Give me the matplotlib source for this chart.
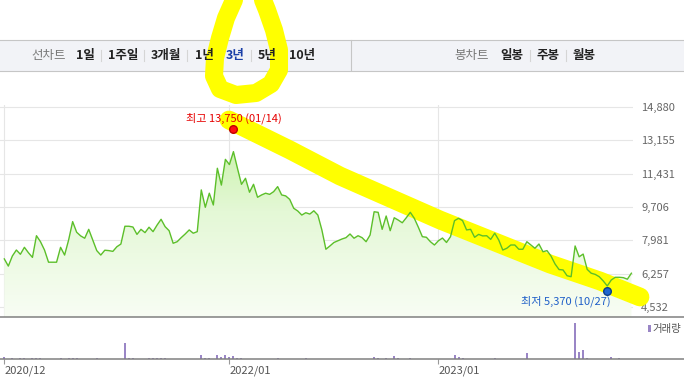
import numpy as np
import pandas as pd
import matplotlib
matplotlib.use('Agg')
import matplotlib.pyplot as plt
import matplotlib.dates as mdates
from matplotlib.colors import LinearSegmentedColormap
from matplotlib.lines import Line2D
from matplotlib.patches import Rectangle

plt.rcParams['font.family'] = ['Noto Sans CJK KR', 'DejaVu Sans']

W, H = 684, 392

# weekly closing prices (won), one value per week from the first week of Dec 2020
prices = [
    7020, 6650, 7170, 7480, 7260, 7620, 7340, 7100, 8220, 7910,
    7480, 6850, 6850, 6850, 7620, 7220, 8000, 8950, 8400, 8210,
    8090, 8550, 8000, 7450, 7220, 7470, 7450, 7410, 7650, 7790,
    8710, 8710, 8670, 8290, 8550, 8380, 8660, 8430, 8770, 9070,
    8690, 8480, 7830, 7910, 8120, 8310, 8520, 8350, 8430, 10590,
    9690, 10420, 9810, 11710, 10840, 12170, 11900, 12570, 11710, 10880,
    11190, 10470, 10880, 10210, 10330, 10420, 10360, 10500, 10760, 10330,
    10280, 10100, 9640, 9500, 9290, 9410, 9340, 9510, 9290, 8520,
    7520, 7690, 7870, 7960, 8050, 8120, 8310, 8090, 8220, 8120,
    7910, 8260, 9460, 9430, 8550, 9240, 8480, 9150, 9030, 8890,
    9150, 9430, 9120, 8660, 8170, 8140, 7910, 7740, 7960, 8100,
    7870, 8170, 9000, 9120, 9000, 8520, 8550, 8140, 8290, 8210,
    8220, 8030, 8350, 8000, 7480, 7570, 7740, 7740, 7520, 7520,
    7910, 7740, 7570, 7790, 7390, 7450, 7170, 6760, 6470, 6450,
    6150, 6100, 7690, 7130, 7270, 6480, 6280, 6220, 6100, 5880,
    5620, 5930, 6070, 6070, 6050, 5970, 6280,
]

# weekly trading volume (shares)
volumes = [
    20000, 0, 10000, 0, 10000, 10000, 0, 10000, 10000, 10000,
    0, 0, 0, 0, 10000, 0, 10000, 10000, 10000, 0,
    0, 0, 0, 10000, 0, 0, 0, 0, 0, 0,
    163000, 13000, 10000, 0, 0, 0, 10000, 10000, 10000, 10000,
    10000, 0, 0, 0, 0, 0, 0, 0, 0, 43000,
    10000, 10000, 0, 43000, 20000, 43000, 20000, 33000, 10000, 10000,
    0, 0, 0, 0, 0, 0, 0, 0, 10000, 0,
    0, 0, 0, 0, 0, 10000, 0, 0, 0, 0,
    0, 0, 0, 0, 0, 0, 0, 0, 0, 0,
    0, 0, 23000, 10000, 0, 10000, 0, 33000, 13000, 0,
    0, 10000, 0, 0, 0, 0, 0, 0, 0, 0,
    0, 0, 43000, 23000, 13000, 0, 0, 0, 0, 0,
    0, 0, 13000, 0, 0, 0, 0, 0, 0, 0,
    57000, 0, 0, 0, 0, 0, 0, 0, 0, 0,
    0, 0, 363000, 67000, 93000, 13000, 0, 0, 0, 0,
    0, 23000, 0, 13000, 0, 0, 0,
]

start = '2020-12-07'
dates = pd.date_range(start, periods=len(prices), freq='7D')

tick_dates = pd.to_datetime(['2020-12-07', '2022-01-03', '2023-01-02'])
tick_labels = ['2020/12', '2022/01', '2023/01']
price_ticks = [4532, 6257, 7981, 9706, 11431, 13155, 14880]

hi_date, hi_price = pd.Timestamp('2022-01-14'), 13750
lo_date, lo_price = pd.Timestamp('2023-10-27'), 5370

menu_left = ['1일', '1주일', '3개월', '1년', '3년', '5년', '10년']
menu_right = ['일봉', '주봉', '월봉']
selected = '3년'


def fx(px):
    return px / W


def fy(py):
    return 1 - py / H


fig = plt.figure(figsize=(W / 100, H / 100), dpi=100)
fig.patch.set_facecolor('white')

# ---- menu bar ----
fig.add_artist(Rectangle((fx(-2), fy(70.5)), fx(688), (70.5 - 39.5) / H,
                         facecolor='#f2f3f7', edgecolor='#c6c6c6', lw=0.8,
                         transform=fig.transFigure, zorder=1))
fig.add_artist(Line2D([fx(351), fx(351)], [fy(40), fy(70)], color='#c6c6c6',
                      lw=0.8, transform=fig.transFigure, zorder=2))

fig.text(fx(48.7), fy(55), '선차트', color='#777777', fontsize=9, ha='center', va='center', zorder=3)
left_x = [85.8, 123, 165.5, 204, 235, 267, 302]
for x, lab in zip(left_x, menu_left):
    col = '#1a3fa8' if lab == selected else '#222222'
    fig.text(fx(x), fy(55), lab, color=col, fontsize=9, fontweight='bold',
             ha='center', va='center', zorder=3)
for sx in [101.3, 144, 187, 219.6, 251, 283.8, 529.7, 566]:
    fig.add_artist(Line2D([fx(sx), fx(sx)], [fy(50), fy(61)], color='#d5d5d5',
                          lw=0.8, transform=fig.transFigure, zorder=2))

fig.text(fx(471.6), fy(55), '봉차트', color='#777777', fontsize=9, ha='center', va='center', zorder=3)
for x, lab in zip([511.8, 547.6, 583.6], menu_right):
    fig.text(fx(x), fy(55), lab, color='#222222', fontsize=9, fontweight='bold',
             ha='center', va='center', zorder=3)

# ---- price panel ----
day0 = dates[0]
xmin = day0 - pd.Timedelta(days=7.5)
xmax = day0 + pd.Timedelta(days=1094.8)
ymin, ymax = 4015, 14983

ax = fig.add_axes([0, fy(317), fx(633), (317 - 105) / H])
ax.set_facecolor('none')
for s in ax.spines.values():
    s.set_visible(False)

poly = ax.fill_between(dates, prices, ymin, color='none', lw=0)
grad = np.linspace(0, 1, 256).reshape(-1, 1)
cmap = LinearSegmentedColormap.from_list('g', ['#f8fdf4', '#e4f8d6', '#bdee96'])
im = ax.imshow(grad, extent=[mdates.date2num(xmin), mdates.date2num(xmax), ymin, ymax],
               origin='lower', aspect='auto', cmap=cmap, zorder=1)
im.set_clip_path(poly.get_paths()[0], transform=ax.transData)

ax.plot(dates, prices, color='#5cbf2a', lw=1.0, zorder=3)

ax.set_xlim(xmin, xmax)
ax.set_ylim(ymin, ymax)
ax.set_xticks(tick_dates)
ax.set_yticks(price_ticks)
ax.set_yticklabels([f'{v:,}' for v in price_ticks])
ax.yaxis.tick_right()
ax.tick_params(axis='x', length=0, labelbottom=False)
ax.tick_params(axis='y', length=0, pad=5.8, labelsize=8, labelcolor='#666666')
for lab in ax.get_yticklabels():
    lab.set_ha('left')
ax.grid(True, color='#e6e6e6', lw=0.8, zorder=0)
ax.set_axisbelow(True)

# highlighter band (drawn under the price line)
band_x = [229, 290, 340, 440, 550, 600, 640]
band_y = [120, 150, 176, 220, 264, 281, 297]
ax.add_line(Line2D([fx(v) for v in band_x], [fy(v) for v in band_y],
                   color='#ffff00', lw=13.5, solid_capstyle='round',
                   solid_joinstyle='round', transform=fig.transFigure,
                   clip_on=False, zorder=2))

# high / low markers
hi_week = hi_date - pd.Timedelta(days=hi_date.weekday())
lo_week = lo_date - pd.Timedelta(days=lo_date.weekday())
ax.plot(hi_week, hi_price, 'o', color='#ff1010', mec='#c00000', ms=5.5, zorder=6, clip_on=False)
ax.annotate(f'최고 {hi_price:,} ({hi_date:%m/%d})', (hi_week, hi_price),
            xytext=(0, 7.5), textcoords='offset points', ha='center', va='center',
            color='#e60000', fontsize=8, zorder=7, annotation_clip=False)
ax.plot(lo_week, lo_price, 'o', color='#1f66d0', mec='#0b3e8a', ms=5.5, zorder=6, clip_on=False)
ax.annotate(f'최저 {lo_price:,} ({lo_date:%m/%d})', (lo_week, lo_price),
            xytext=(2.5, -7.5), textcoords='offset points', ha='right', va='center',
            color='#1f5fc8', fontsize=8, zorder=7, annotation_clip=False)

fig.add_artist(Line2D([0, 1], [fy(317), fy(317)], color='#808080', lw=1.1,
                      transform=fig.transFigure, zorder=4))

# ---- volume panel ----
ax2 = fig.add_axes([0, fy(359), fx(633), (359 - 320) / H])
ax2.set_facecolor('none')
for s in ax2.spines.values():
    s.set_visible(False)
ax2.bar(dates, volumes, width=3.5, color='#9a86c6', zorder=2)
ax2.set_xlim(xmin, xmax)
ax2.set_ylim(0, 390000)
ax2.set_yticks([])
ax2.set_xticks(tick_dates)
ax2.set_xticklabels(tick_labels)
ax2.tick_params(axis='x', length=3.6, width=0.8, color='#999999', pad=1,
                labelsize=8, labelcolor='#555555')
for lab in ax2.get_xticklabels():
    lab.set_ha('left')

fig.add_artist(Line2D([0, 1], [fy(359), fy(359)], color='#808080', lw=1.1,
                      transform=fig.transFigure, zorder=4))
fig.add_artist(Rectangle((fx(648), fy(332)), fx(2.5), 7 / H, facecolor='#9a86c6',
                         edgecolor='none', transform=fig.transFigure, zorder=4))
fig.text(fx(652.5), fy(329), '거래량', color='#555555', fontsize=7.5, ha='left', va='center', zorder=4)

# highlighter loop around the selected period button (under the menu texts)
loop_x = [234, 226, 220, 215, 214, 220, 236, 256, 271, 279, 279, 274, 267, 263]
loop_y = [0, 18, 38, 58, 76, 89, 95, 93, 84, 70, 50, 30, 10, 0]
fig.add_artist(Line2D([fx(v) for v in loop_x], [fy(v) for v in loop_y],
                      color='#ffff00', lw=13, solid_capstyle='round',
                      solid_joinstyle='round', transform=fig.transFigure, zorder=2.5))

fig.savefig('out.png', dpi=100)
